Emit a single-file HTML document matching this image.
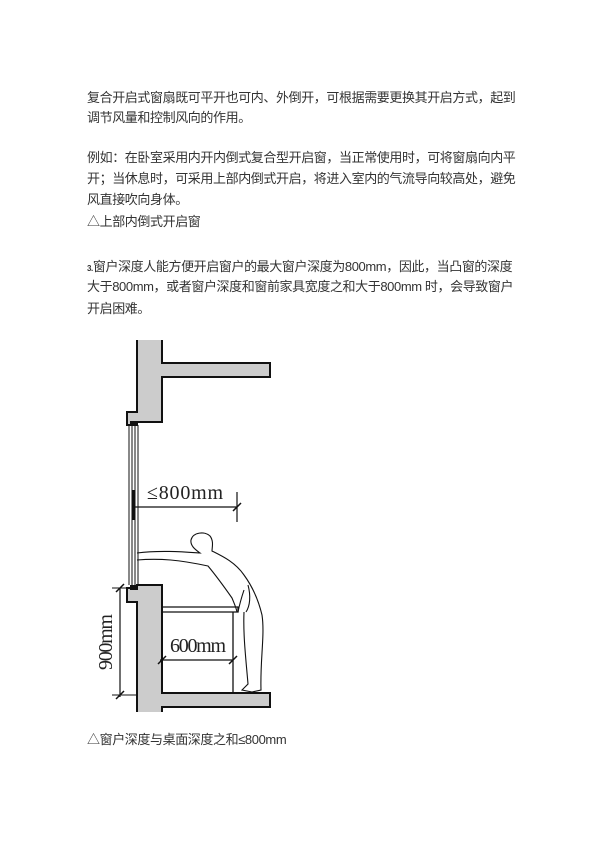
<!DOCTYPE html>
<html><head><meta charset="utf-8"><style>
body{margin:0;background:#fff;}
.p{position:absolute;left:87px;font-family:"Liberation Sans","Noto Sans CJK SC",sans-serif;font-size:13px;letter-spacing:-0.4px;color:#333;white-space:nowrap;line-height:20px;}
</style></head><body>
<div style="position:relative;width:600px;height:848px;overflow:hidden;">
<div class="p" style="top:88px">复合开启式窗扇既可平开也可内、外倒开，可根据需要更换其开启方式，起到</div>
<div class="p" style="top:108px">调节风量和控制风向的作用。</div>
<div class="p" style="top:148px">例如：在卧室采用内开内倒式复合型开启窗，当正常使用时，可将窗扇向内平</div>
<div class="p" style="top:169px">开；当休息时，可采用上部内倒式开启，将进入室内的气流导向较高处，避免</div>
<div class="p" style="top:190px">风直接吹向身体。</div>
<div class="p" style="top:212px">△上部内倒式开启窗</div>
<div class="p" style="top:257px"><span style="font-size:8px;font-weight:bold">3.</span>窗户深度人能方便开启窗户的最大窗户深度为800mm，因此，当凸窗的深度</div>
<div class="p" style="top:277px">大于800mm，或者窗户深度和窗前家具宽度之和大于800mm 时，会导致窗户</div>
<div class="p" style="top:299px">开启困难。</div>
<div class="p" style="top:730px">△窗户深度与桌面深度之和≤800mm</div>
<svg width="600" height="848" style="position:absolute;left:0;top:0" fill="none" stroke="#111" stroke-width="1.5">
<path d="M137,340 L137,412 L127,412 L127,425 L137,425 L137,422 L162,422 L162,377 L270,377 L270,363 L162,363 L162,340" fill="#ccc" stroke="#111" stroke-width="2"/>
<path d="M137,712 L137,602 L127,602 L127,588 L137,588 L137,585 L162,585 L162,693 L270,693 L270,707 L162,707 L162,712" fill="#ccc" stroke="#111" stroke-width="2"/>
<rect x="130" y="585" width="8" height="5" fill="#111" stroke="none"/>
<rect x="130" y="421" width="8" height="5" fill="#111" stroke="none"/>
<g stroke-width="1">
<line x1="129" y1="425" x2="129" y2="585"/><line x1="132" y1="425" x2="132" y2="585"/>
<line x1="135" y1="425" x2="135" y2="585"/><line x1="138" y1="425" x2="138" y2="585"/>
</g>
<line x1="133" y1="490" x2="133" y2="520" stroke-width="3"/>
<line x1="135" y1="507" x2="237" y2="507" stroke-width="1.2"/>
<line x1="237" y1="492" x2="237" y2="522" stroke-width="1.2"/>
<line x1="233" y1="511" x2="241" y2="503" stroke-width="1.5"/>
<text x="147" y="499" font-family="Liberation Serif,serif" font-size="20" fill="#222" stroke="none" textLength="76">≤800mm</text>
<path d="M162,607 L238,607 L238,612 L162,612" stroke-width="1.3"/>
<line x1="233" y1="612" x2="233" y2="693" stroke-width="1.3"/>
<line x1="160" y1="660" x2="233" y2="660" stroke-width="1.2"/>
<line x1="229" y1="664" x2="237" y2="656"/>
<line x1="158" y1="664" x2="166" y2="656"/>
<text x="170" y="652" font-family="Liberation Serif,serif" font-size="20" fill="#222" stroke="none" textLength="56">600mm</text>
<line x1="120" y1="588" x2="120" y2="697" stroke-width="1.2"/>
<line x1="112" y1="588" x2="137" y2="588" stroke-width="1"/>
<line x1="112" y1="695" x2="137" y2="695" stroke-width="1"/>
<line x1="116" y1="592" x2="124" y2="584"/><line x1="116" y1="699" x2="124" y2="691"/>
<text transform="translate(112,670) rotate(-90)" font-family="Liberation Serif,serif" font-size="20" fill="#222" stroke="none" textLength="56">900mm</text>
<g stroke-width="1.1">
<path d="M137,553 C160,550 185,552 200,553 C196,550 190,546 191,540 C193,532 205,531 210,536 C214,541 212,548 212,551 C222,556 235,562 244,575 C252,586 258,598 262,615 C265,635 260,660 261,690 L252,692 L242,690 L248,684 C246,660 243,635 244,612"/>
<path d="M137,560 C160,558 180,560 208,566 C218,578 225,588 232,598 C234,603 236,607 237,612"/>
<path d="M244,590 C242,596 240,602 238,612"/>
<path d="M248,585 C251,596 250,606 246,612"/>
</g>
</svg>
</div>
</body></html>
